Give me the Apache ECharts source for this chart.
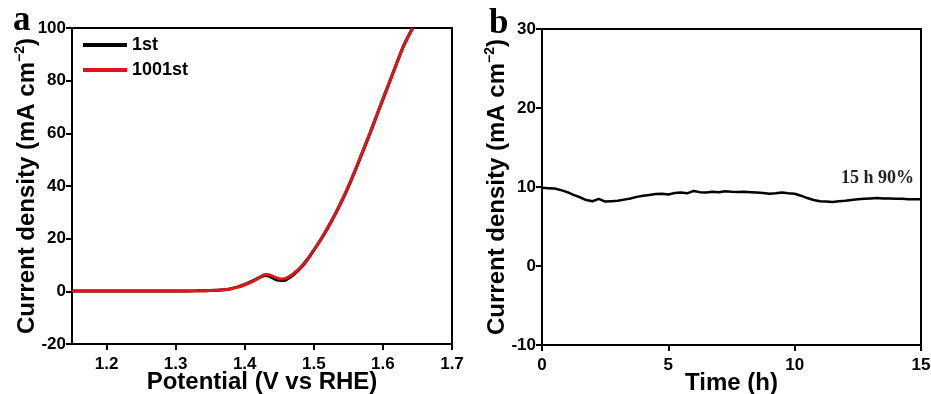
<!DOCTYPE html>
<html>
<head>
<meta charset="utf-8">
<script src="https://cdn.jsdelivr.net/npm/echarts@6/dist/echarts.min.js"></script>
<style>
  html, body { margin: 0; padding: 0; background: #fff; }
  #chart { width: 931px; height: 394px; }
</style>
</head>
<body>
<div id="chart"></div>
<script>
// panel a: LSV curves
const potential = [1.15, 1.2, 1.25, 1.3, 1.33, 1.35, 1.37, 1.38, 1.39, 1.40, 1.41, 1.42, 1.425, 1.43, 1.435,
  1.44, 1.445, 1.45, 1.455, 1.46, 1.465, 1.47, 1.48, 1.49, 1.50, 1.51, 1.52, 1.53, 1.54, 1.55, 1.56, 1.57,
  1.58, 1.59, 1.60, 1.61, 1.62, 1.63, 1.643];
const j1st = [0.1, 0.1, 0.1, 0.15, 0.2, 0.3, 0.6, 1.0, 1.7, 2.6, 3.8, 5.1, 5.7, 6.0, 5.8,
  5.2, 4.5, 4.2, 4.1, 4.4, 5.2, 6.2, 8.6, 11.8, 15.6, 19.6, 24.0, 28.8, 34.0, 39.7, 45.9, 52.5,
  59.1, 66.0, 72.9, 79.7, 86.6, 93.2, 100];
const j1001st = [0.1, 0.1, 0.1, 0.15, 0.2, 0.3, 0.6, 1.0, 1.6, 2.5, 3.6, 5.0, 5.9, 6.4, 6.3,
  5.8, 5.2, 4.8, 4.7, 5.0, 5.7, 6.6, 8.9, 12.0, 15.8, 19.8, 24.2, 29.0, 34.3, 40.0, 46.2, 52.8,
  59.4, 66.3, 73.2, 80.0, 86.8, 93.4, 100];
const potentialTicks = [1.2, 1.3, 1.4, 1.5, 1.6, 1.7];

// panel b: chronoamperometry
const time = [0, 0.25, 0.5, 0.75, 1, 1.25, 1.5, 1.75, 2, 2.25, 2.5, 2.75, 3, 3.25, 3.5, 3.75, 4, 4.25,
  4.5, 4.75, 5, 5.25, 5.5, 5.75, 6, 6.25, 6.5, 6.75, 7, 7.25, 7.5, 7.75, 8, 8.25, 8.5, 8.75, 9, 9.25,
  9.5, 9.75, 10, 10.25, 10.5, 10.75, 11, 11.25, 11.5, 11.75, 12, 12.25, 12.5, 12.75, 13, 13.25, 13.5,
  13.75, 14, 14.25, 14.5, 14.75, 15];
const current = [9.9, 9.85, 9.8, 9.6, 9.35, 9.0, 8.7, 8.35, 8.2, 8.5, 8.15, 8.2, 8.25, 8.4, 8.55, 8.75, 8.9, 9.0,
  9.1, 9.15, 9.05, 9.25, 9.3, 9.2, 9.5, 9.35, 9.3, 9.4, 9.35, 9.45, 9.4, 9.38, 9.4, 9.35, 9.3, 9.25, 9.15, 9.2,
  9.3, 9.2, 9.15, 8.9, 8.6, 8.35, 8.2, 8.15, 8.1, 8.2, 8.25, 8.35, 8.45, 8.5, 8.55, 8.6, 8.55,
  8.55, 8.5, 8.5, 8.45, 8.45, 8.45];

const sans = "Liberation Sans";
const zip = (xs, ys) => xs.map((x, i) => [x, ys[i]]);

const axisCommon = {
  axisLine: { show: true, onZero: false, lineStyle: { color: "#000", width: 2 } },
  axisTick: { show: true, inside: false, length: 6, lineStyle: { color: "#000", width: 2 } },
  axisLabel: { color: "#000", fontFamily: sans, fontWeight: "bold", fontSize: 17, margin: 6 },
  splitLine: { show: false },
  nameLocation: "middle",
  nameMoveOverlap: false,
  nameTextStyle: {
    color: "#000", fontFamily: sans, fontWeight: "bold", fontSize: 24,
    rich: { sup: { fontFamily: sans, fontWeight: "bold", fontSize: 14, verticalAlign: "top", padding: [0, 0, 14, 0] } }
  }
};

const chart = echarts.init(document.getElementById("chart"));
chart.setOption({
  animation: false,
  backgroundColor: "#fff",
  grid: [
    { left: 72, top: 28, width: 380, height: 316, show: true, borderColor: "#000", borderWidth: 2, outerBoundsMode: "none", containLabel: false },
    { left: 542, top: 29, width: 379, height: 316, show: true, borderColor: "#000", borderWidth: 2, outerBoundsMode: "none", containLabel: false }
  ],
  xAxis: [
    Object.assign({}, axisCommon, {
      gridIndex: 0, type: "value", min: 1.15, max: 1.7,
      name: "Potential (V vs RHE)", nameGap: 26,
      axisTick: Object.assign({}, axisCommon.axisTick, { customValues: potentialTicks }),
      axisLabel: Object.assign({}, axisCommon.axisLabel, {
        customValues: potentialTicks, margin: 12,
        formatter: v => v.toFixed(1)
      })
    }),
    Object.assign({}, axisCommon, {
      gridIndex: 1, type: "value", min: 0, max: 15, interval: 5,
      name: "Time (h)", nameGap: 26,
      axisLabel: Object.assign({}, axisCommon.axisLabel, { margin: 12 })
    })
  ],
  yAxis: [
    Object.assign({}, axisCommon, {
      gridIndex: 0, type: "value", min: -20, max: 100, interval: 20,
      name: "Current density (mA cm{sup|−2})", nameGap: 31
    }),
    Object.assign({}, axisCommon, {
      gridIndex: 1, type: "value", min: -10, max: 30, interval: 10,
      name: "Current density (mA cm{sup|−2})", nameGap: 31
    })
  ],
  legend: {
    data: ["1st", "1001st"],
    orient: "vertical",
    left: 78, top: 31,
    itemWidth: 44, itemHeight: 4, itemGap: 7,
    icon: "rect",
    textStyle: { color: "#000", fontFamily: sans, fontWeight: "bold", fontSize: 18 }
  },
  series: [
    {
      name: "1st", type: "line", xAxisIndex: 0, yAxisIndex: 0,
      data: zip(potential, j1st), smooth: 0.3, showSymbol: false,
      lineStyle: { color: "#000", width: 3 }, itemStyle: { color: "#000" }
    },
    {
      name: "1001st", type: "line", xAxisIndex: 0, yAxisIndex: 0,
      data: zip(potential, j1001st), smooth: 0.3, showSymbol: false,
      lineStyle: { color: "#e3131b", width: 3 }, itemStyle: { color: "#e3131b" }
    },
    {
      name: "stability", type: "line", xAxisIndex: 1, yAxisIndex: 1,
      data: zip(time, current), showSymbol: false,
      lineStyle: { color: "#000", width: 2.5 }
    }
  ],
  graphic: [
    { type: "text", left: 13, top: 3, style: { text: "a", fill: "#000", font: "bold 35px 'Liberation Serif'" } },
    { type: "text", left: 489, top: 6, style: { text: "b", fill: "#000", font: "bold 35px 'Liberation Serif'" } },
    { type: "text", left: 841, top: 169, style: { text: "15 h 90%", fill: "#222", font: "bold 18px 'Liberation Serif'" } }
  ]
});
</script>
</body>
</html>
